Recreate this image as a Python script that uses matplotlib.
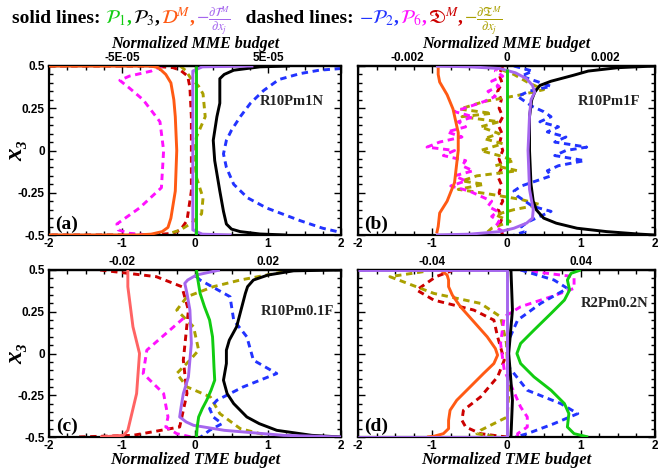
import matplotlib
matplotlib.use('Agg')
import matplotlib.pyplot as plt
from matplotlib.ticker import MultipleLocator

# ---------------- DATA ----------------
# Panel (a) R10Pm1N
a_P1_y = [0.5, -0.5]
a_P1_x = [0.02, 0.02]
a_P3_y = [0.5, 0.495, 0.475, 0.45, 0.425, 0.35, 0.28, 0.2, 0.06, -0.06, -0.24, -0.36, -0.435, -0.465, -0.48, -0.494, -0.5]
a_P3_x = [1.3, 0.89, 0.53, 0.4, 0.34, 0.34, 0.34, 0.30, 0.25, 0.27, 0.34, 0.39, 0.43, 0.5, 0.62, 0.89, 1.25]
a_DM_y = [0.5, 0.5, 0.49, 0.47, 0.45, 0.4, 0.3, 0.2, 0.0, -0.24, -0.4, -0.455, -0.48, -0.495, -0.5, -0.5]
a_DM_x = [-2.0, -0.6, -0.5, -0.45, -0.4, -0.33, -0.29, -0.27, -0.25, -0.27, -0.33, -0.37, -0.45, -0.6, -0.8, -2.0]
a_dTM_y = [0.5, 0.495, 0.47, 0.0, -0.47, -0.495, -0.5]
a_dTM_x = [0.8, 0.1, -0.03, -0.03, -0.03, 0.1, 0.5]
a_P2_y = [0.485, 0.475, 0.455, 0.42, 0.355, 0.28, 0.2, 0.12, 0.06, -0.02, -0.1, -0.2, -0.28, -0.34, -0.415, -0.46, -0.485]
a_P2_x = [2.0, 1.7, 1.44, 1.15, 0.94, 0.76, 0.62, 0.5, 0.43, 0.39, 0.43, 0.53, 0.72, 0.98, 1.44, 1.75, 2.0]
a_P6_y = [0.5, 0.47, 0.44, 0.415, 0.37, 0.3, 0.17, 0.0, -0.22, -0.34, -0.435, -0.47, -0.49, -0.5]
a_P6_x = [-0.45, -0.6, -0.9, -1.03, -0.9, -0.71, -0.48, -0.43, -0.46, -0.76, -1.07, -1.05, -0.9, -0.62]
a_DfM_y = [0.5, 0.5, 0.49, 0.475, 0.44, 0.375, 0.2, 0.0, -0.24, -0.415, -0.47, -0.49, -0.5, -0.5]
a_DfM_x = [-2.0, -0.6, -0.3, -0.2, -0.1, -0.07, -0.05, -0.05, -0.05, -0.11, -0.2, -0.3, -0.6, -2.0]
a_dTf_y = [0.5, 0.47, 0.435, 0.38, 0.335, 0.2, 0.08, 0.0, -0.16, -0.28, -0.375, -0.43, -0.47, -0.49]
a_dTf_x = [-0.2, -0.12, -0.07, 0.05, 0.11, 0.14, 0.02, -0.02, 0.02, 0.11, 0.09, -0.05, -0.2, -0.34]

# Panel (b) R10Pm1F
b_P1_y = [0.48, -0.44]
b_P1_x = [0.0, 0.0]
b_P3_y = [0.5, 0.49, 0.47, 0.445, 0.41, 0.385, 0.345, 0.3, 0.2, 0.0, -0.2, -0.3, -0.35, -0.4, -0.43, -0.46, -0.48, -0.495, -0.5]
b_P3_x = [2.0, 1.5, 1.1, 0.9, 0.6, 0.45, 0.38, 0.34, 0.31, 0.31, 0.33, 0.36, 0.4, 0.5, 0.67, 0.95, 1.35, 1.8, 2.0]
b_DM_y = [0.49, 0.45, 0.405, 0.33, 0.245, 0.105, 0.0, -0.19, -0.3, -0.37, -0.45, -0.49]
b_DM_x = [-0.92, -0.92, -0.9, -0.8, -0.72, -0.65, -0.65, -0.7, -0.8, -0.9, -0.92, -0.94]
b_dTM_y = [0.5, 0.495, 0.485, 0.46, 0.425, 0.385, 0.345, 0.3, 0.205, 0.0, -0.23, -0.35, -0.4, -0.43, -0.46, -0.48, -0.495, -0.5]
b_dTM_x = [-0.95, -0.5, -0.09, 0.12, 0.27, 0.35, 0.38, 0.33, 0.31, 0.29, 0.31, 0.36, 0.35, 0.27, 0.1, -0.09, -0.5, -0.95]
b_P2_y = [0.5, 0.47, 0.44, 0.41, 0.38, 0.35, 0.32, 0.29, 0.26, 0.23, 0.2, 0.17, 0.14, 0.11, 0.08, 0.05, 0.02, 0.0, -0.03, -0.06, -0.09, -0.12, -0.15, -0.18, -0.21, -0.24, -0.27, -0.3, -0.33, -0.36, -0.39, -0.42, -0.45, -0.48, -0.5]
b_P2_x = [0.1, 0.35, 0.2, 0.4, 0.6, 0.3, 0.15, 0.25, 0.35, 0.5, 0.6, 0.45, 0.7, 0.55, 0.8, 0.65, 1.08, 0.8, 0.65, 1.05, 0.7, 0.55, 0.6, 0.4, 0.2, 0.1, 0.15, 0.25, 0.35, 0.6, 0.45, 0.3, 0.2, 0.25, 0.1]
b_P6_y = [0.5, 0.47, 0.44, 0.41, 0.38, 0.35, 0.32, 0.29, 0.26, 0.23, 0.2, 0.17, 0.14, 0.11, 0.08, 0.05, 0.02, 0.0, -0.03, -0.06, -0.09, -0.12, -0.15, -0.18, -0.21, -0.24, -0.27, -0.3, -0.33, -0.36, -0.39, -0.42, -0.45, -0.48, -0.5]
b_P6_x = [-0.1, -0.15, -0.05, -0.2, -0.1, -0.25, -0.15, -0.3, -0.5, -0.7, -0.45, -0.65, -0.55, -0.8, -0.6, -0.9, -1.07, -0.7, -0.85, -0.55, -0.6, -0.45, -0.7, -0.55, -0.75, -0.5, -0.35, -0.2, -0.25, -0.12, -0.2, -0.1, -0.15, -0.05, -0.1]
b_DfM_y = [0.5, 0.45, 0.4, 0.35, 0.3, 0.25, 0.2, 0.15, 0.1, 0.05, 0.0, -0.05, -0.1, -0.15, -0.2, -0.25, -0.3, -0.35, -0.4, -0.45, -0.5]
b_DfM_x = [-0.05, -0.1, -0.06, -0.12, -0.07, -0.1, -0.05, -0.11, -0.06, -0.09, -0.05, -0.1, -0.06, -0.12, -0.07, -0.1, -0.05, -0.11, -0.06, -0.1, -0.05]
b_dTf_y = [0.5, 0.45, 0.4, 0.36, 0.33, 0.29, 0.245, 0.22, 0.2, 0.17, 0.14, 0.1, 0.07, 0.04, 0.0, -0.03, -0.06, -0.09, -0.12, -0.15, -0.18, -0.2, -0.23, -0.26, -0.29, -0.32, -0.35, -0.38, -0.42, -0.46, -0.5]
b_dTf_x = [-0.2, 0.1, 0.3, 0.5, 0.2, -0.3, -0.63, -0.2, -0.6, -0.1, -0.35, -0.1, -0.3, -0.05, -0.35, -0.1, 0.1, -0.15, 0.15, -0.4, -0.6, -0.3, -0.65, -0.2, 0.2, 0.45, 0.1, -0.15, 0.05, -0.2, -0.3]

# Panel (c) R10Pm0.1F
c_P1_y = [0.5, 0.44, 0.36, 0.28, 0.2, 0.1, 0.02, -0.08, -0.16, -0.22, -0.28, -0.33, -0.38, -0.44, -0.5]
c_P1_x = [0.02, 0.04, 0.07, 0.13, 0.2, 0.24, 0.25, 0.26, 0.27, 0.22, 0.16, 0.1, 0.05, 0.03, 0.02]
c_P3_y = [0.5, 0.495, 0.47, 0.44, 0.4, 0.36, 0.26, 0.16, 0.08, 0.02, -0.06, -0.16, -0.24, -0.3, -0.34, -0.38, -0.42, -0.46, -0.49, -0.5]
c_P3_x = [2.0, 1.35, 1.0, 0.8, 0.72, 0.69, 0.63, 0.57, 0.47, 0.43, 0.43, 0.39, 0.44, 0.53, 0.62, 0.71, 0.88, 1.12, 1.6, 2.0]
c_DM_y = [0.5, 0.4, 0.16, 0.0, -0.24, -0.46, -0.49, -0.5]
c_DM_x = [-0.92, -0.92, -0.85, -0.76, -0.8, -0.92, -0.98, -1.3]
c_dTM_y = [0.5, 0.47, 0.44, 0.42, 0.36, 0.26, 0.06, -0.14, -0.24, -0.32, -0.38, -0.41, -0.43, -0.46, -0.49, -0.5]
c_dTM_x = [0.34, 0.02, -0.1, -0.14, -0.11, -0.07, -0.05, -0.09, -0.16, -0.19, -0.21, -0.12, -0.02, 0.4, 1.21, 2.0]
c_P2_y = [0.46, 0.44, 0.34, 0.2, 0.1, -0.04, -0.12, -0.2, -0.28, -0.33, -0.38, -0.42, -0.46, -0.5]
c_P2_x = [0.02, 0.07, 0.48, 0.53, 0.71, 0.8, 1.12, 0.66, 0.3, 0.2, 0.25, 0.37, 0.2, 0.08]
c_P6_y = [0.21, 0.1, 0.02, -0.12, -0.24, -0.38, -0.44, -0.48, -0.5]
c_P6_x = [-0.16, -0.45, -0.66, -0.71, -0.43, -0.37, -0.4, -0.25, -0.05]
c_DfM_y = [0.5, 0.46, 0.4, 0.26, -0.04, -0.24, -0.44, -0.49, -0.5]
c_DfM_x = [-1.3, -0.53, -0.18, -0.09, -0.16, -0.11, -0.21, -0.85, -1.62]
c_dTf_y = [0.5, 0.44, 0.4, 0.34, 0.26, 0.16, 0.02, -0.04, -0.12, -0.2, -0.26, -0.36, -0.45, -0.49]
c_dTf_x = [1.35, 0.62, 0.25, -0.11, -0.25, -0.02, 0.05, -0.07, -0.25, -0.11, 0.21, 0.34, 0.62, 0.98]

# Panel (d) R2Pm0.2N
d_P1_y = [0.5, 0.48, 0.44, 0.38, 0.32, 0.24, 0.14, 0.06, 0.0, -0.06, -0.14, -0.22, -0.3, -0.36, -0.44, -0.48, -0.5]
d_P1_x = [1.0, 0.87, 0.82, 0.85, 0.78, 0.6, 0.37, 0.19, 0.14, 0.19, 0.37, 0.6, 0.78, 0.84, 0.82, 0.91, 1.1]
d_P3_y = [0.5, 0.26, 0.0, -0.28, -0.5]
d_P3_x = [0.06, 0.08, 0.03, 0.08, 0.06]
d_DM_y = [0.5, 0.47, 0.44, 0.4, 0.35, 0.28, 0.19, 0.1, 0.03, -0.01, -0.06, -0.12, -0.2, -0.28, -0.34, -0.4, -0.45, -0.48, -0.496, -0.5]
d_DM_x = [-0.89, -0.8, -0.78, -0.78, -0.73, -0.62, -0.44, -0.26, -0.15, -0.12, -0.17, -0.31, -0.49, -0.67, -0.76, -0.78, -0.78, -0.85, -0.98, -1.07]
d_dTM_y = [0.5, 0.5, -0.5, -0.5]
d_dTM_x = [-2.0, 0.0, 0.0, -2.0]
d_P2_y = [0.5, 0.44, 0.39, 0.3, 0.2, 0.06, -0.08, -0.22, -0.3, -0.36, -0.42, -0.48, -0.5]
d_P2_x = [0.19, 0.64, 0.82, 0.46, 0.15, 0.01, 0.03, 0.28, 0.73, 0.96, 0.64, 0.28, 0.12]
d_P6_y = [0.5, 0.46, 0.39, 0.34, 0.28, 0.22, 0.06, -0.1, -0.32, -0.38, -0.44, -0.48, -0.5]
d_P6_x = [0.19, 0.91, 0.91, 0.6, 0.19, -0.03, -0.08, -0.03, 0.19, 0.28, 0.28, 0.15, 0.15]
d_DfM_y = [0.5, 0.46, 0.38, 0.32, 0.26, 0.2, 0.1, -0.04, -0.14, -0.26, -0.34, -0.4, -0.44, -0.48, -0.5]
d_DfM_x = [-0.71, -0.95, -1.21, -0.98, -0.44, -0.17, -0.12, -0.03, -0.12, -0.35, -0.58, -0.6, -0.55, -0.35, 0.0]
d_dTf_y = [0.49, 0.46, 0.36, 0.3, 0.22, 0.06, -0.24, -0.38, -0.46, -0.48, -0.5]
d_dTf_x = [-1.12, -1.57, -0.98, -0.35, -0.08, 0.0, 0.03, 0.01, -0.35, -0.4, -0.12]

panel_letters = ['(a)', '(b)', '(c)', '(d)']
panel_names = ['R10Pm1N', 'R10Pm1F', 'R10Pm0.1F', 'R2Pm0.2N']
top_scales = [5e-5, 0.0015, 0.02, 0.04]
top_ticks = [[-5e-5, 5e-5], [-0.002, 0.0, 0.002], [-0.02, 0.02], [-0.04, 0.04]]
top_labels = [['-5E-05', '5E-05'], ['-0.002', '0', '0.002'], ['-0.02', '0.02'], ['-0.04', '0.04']]
x_ticks = [-2, -1, 0, 1, 2]
y_ticks = [-0.5, -0.25, 0, 0.25, 0.5]
y_ticklabels = ['-0.5', '-0.25', '0', '0.25', '0.5']

# ---------------- STYLE ----------------
plt.rcParams['font.family'] = ['Liberation Sans', 'DejaVu Sans']
plt.rcParams['mathtext.fontset'] = 'stix'

C_P1 = '#11cc11'
C_P3 = '#000000'
C_DM = '#ff5a14'
C_DM_c = '#ff6464'
C_dTM = '#a566ee'
C_P2 = '#2233ff'
C_P6 = '#ff11ff'
C_DfM = '#cc0000'
C_dTf = '#aaa000'
DASH = (0, (2.2, 1.6))

fig = plt.figure(figsize=(6.67, 4.68), dpi=100)
W, H = 667.0, 468.0
boxes = [(49, 66, 341, 235), (358, 66, 655, 235), (49, 270, 341, 437), (358, 270, 655, 437)]

panels = [
    dict(P1=(a_P1_x, a_P1_y), P3=(a_P3_x, a_P3_y), DM=(a_DM_x, a_DM_y), dTM=(a_dTM_x, a_dTM_y),
         P2=(a_P2_x, a_P2_y), P6=(a_P6_x, a_P6_y), DfM=(a_DfM_x, a_DfM_y), dTf=(a_dTf_x, a_dTf_y)),
    dict(P1=(b_P1_x, b_P1_y), P3=(b_P3_x, b_P3_y), DM=(b_DM_x, b_DM_y), dTM=(b_dTM_x, b_dTM_y),
         P2=(b_P2_x, b_P2_y), P6=(b_P6_x, b_P6_y), DfM=(b_DfM_x, b_DfM_y), dTf=(b_dTf_x, b_dTf_y)),
    dict(P1=(c_P1_x, c_P1_y), P3=(c_P3_x, c_P3_y), DM=(c_DM_x, c_DM_y), dTM=(c_dTM_x, c_dTM_y),
         P2=(c_P2_x, c_P2_y), P6=(c_P6_x, c_P6_y), DfM=(c_DfM_x, c_DfM_y), dTf=(c_dTf_x, c_dTf_y)),
    dict(P1=(d_P1_x, d_P1_y), P3=(d_P3_x, d_P3_y), DM=(d_DM_x, d_DM_y), dTM=(d_dTM_x, d_dTM_y),
         P2=(d_P2_x, d_P2_y), P6=(d_P6_x, d_P6_y), DfM=(d_DfM_x, d_DfM_y), dTf=(d_dTf_x, d_dTf_y)),
]

name_pos = [(1.33, 0.29), (1.38, 0.29), (1.40, 0.25), (1.46, 0.30)]
SERIF = ['Liberation Serif', 'DejaVu Serif']
TICKFONT = dict(fontweight='bold', fontsize=8.5)

for i, (box, pdat) in enumerate(zip(boxes, panels)):
    l, t, r, b = box
    ax = fig.add_axes([l / W, 1 - b / H, (r - l) / W, (b - t) / H])
    dm_col = C_DM_c if i == 2 else C_DM
    for key, col in [('DfM', C_DfM), ('dTf', C_dTf), ('P6', C_P6), ('P2', C_P2)]:
        xs, ys = pdat[key]
        ax.plot(xs, ys, color=col, lw=2.1, ls=DASH, zorder=2)
    for key, col in [('DM', dm_col), ('P3', C_P3), ('dTM', C_dTM), ('P1', C_P1)]:
        xs, ys = pdat[key]
        ax.plot(xs, ys, color=col, lw=2.1, zorder=3, solid_capstyle='butt')
    ax.set_xlim(-2, 2)
    ax.set_ylim(-0.5, 0.5)
    ax.set_xticks(x_ticks)
    ax.set_xticklabels([str(v) for v in x_ticks], **TICKFONT)
    ax.set_yticks(y_ticks)
    ax.xaxis.set_minor_locator(MultipleLocator(0.25))
    ax.yaxis.set_minor_locator(MultipleLocator(0.05))
    ax.tick_params(which='both', direction='in', top=True, right=True, width=1.0)
    ax.tick_params(which='major', length=5)
    ax.tick_params(which='minor', length=3)
    ax.tick_params(axis='x', pad=2)
    ax.tick_params(axis='y', pad=3)
    if i in (0, 2):
        ax.set_yticklabels(y_ticklabels, **TICKFONT)
        ax.set_ylabel('x\u2083', family=SERIF, style='italic', weight='bold', fontsize=18)
        ax.yaxis.set_label_coords(-0.075, 0.5)
    else:
        ax.set_yticklabels([])
    for s in ax.spines.values():
        s.set_linewidth(1.6)
    sc = top_scales[i]
    sec = ax.secondary_xaxis('top', functions=(lambda v, s=sc: v * s, lambda v, s=sc: v / s))
    sec.set_xticks(top_ticks[i])
    sec.set_xticklabels(top_labels[i], **TICKFONT)
    sec.tick_params(length=0, pad=1.5)
    sec.spines['top'].set_linewidth(1.6)
    if i < 2:
        sec.set_xlabel('Normalized MME budget', family=SERIF, style='italic',
                       weight='bold', fontsize=11.5, labelpad=2.5)
    else:
        ax.set_xlabel('Normalized TME budget', family=SERIF, style='italic',
                      weight='bold', fontsize=12, labelpad=0)
    nx, ny = name_pos[i]
    ax.text(nx, ny, panel_names[i], family=SERIF, weight='bold', fontsize=10.5,
            ha='center', va='center', color='#222222', zorder=5)
    ax.text(-1.76, -0.435, panel_letters[i], family=SERIF, weight='bold', fontsize=14,
            ha='center', va='center', zorder=5)

# ---------------- TITLE (multi-coloured) ----------------
pieces = [
    ('solid lines: ', C_P3, 14),
    (r'$\mathcal{P}_1$, ', C_P1, 14),
    (r'$\mathcal{P}_3$, ', C_P3, 14),
    (r'$\mathcal{D}^M$, ', C_DM, 14),
    (r'$-\frac{\partial\mathcal{T}^M}{\partial x_j}$', C_dTM, 13),
    ('   dashed lines: ', C_P3, 14),
    (r'$-\mathcal{P}_2$, ', C_P2, 14),
    (r'$\mathcal{P}_6$, ', C_P6, 14),
    (r'$\mathfrak{D}^M$, ', C_DfM, 14),
    (r'$-\frac{\partial\mathfrak{T}^M}{\partial x_j}$', C_dTf, 13),
]
renderer = fig.canvas.get_renderer()
xcur = 12 / W
ybase = 1 - 23 / H
for s, col, fs in pieces:
    t = fig.text(xcur, ybase, s, family=SERIF, weight='bold', fontsize=fs, color=col,
                 va='baseline', ha='left')
    bb = t.get_window_extent(renderer)
    xcur += bb.width / fig.bbox.width

fig.savefig('out.png', dpi=100)
